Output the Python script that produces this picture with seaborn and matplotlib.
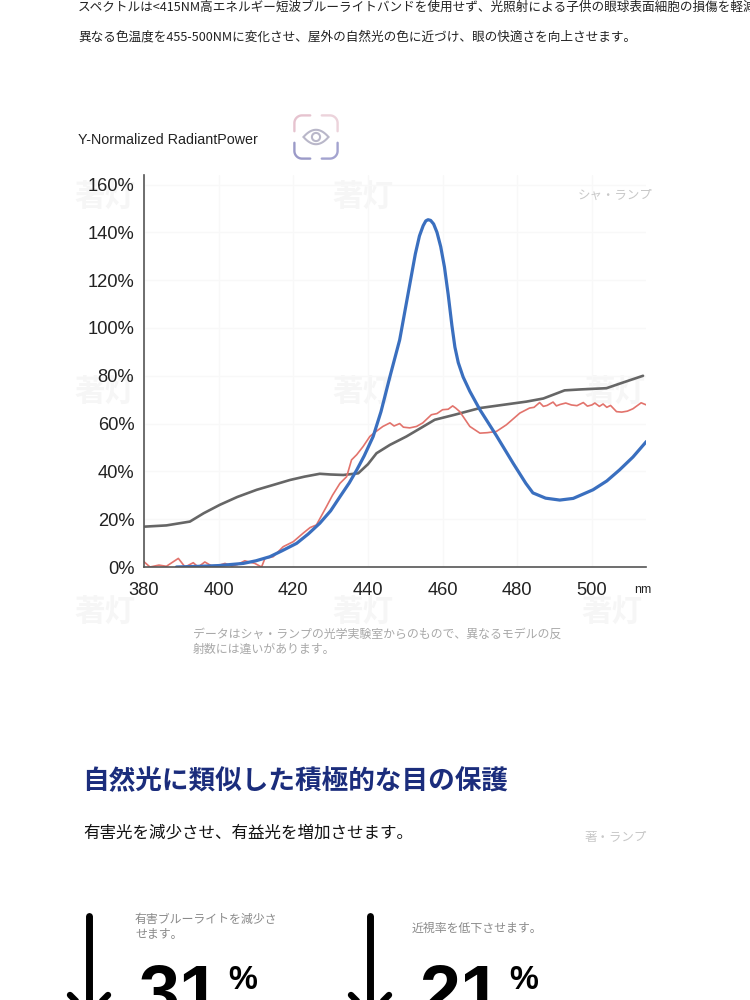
import numpy as np
import seaborn as sns
import matplotlib.pyplot as plt
from matplotlib.lines import Line2D

# spectrum data (wavelength nm, relative power %)
wl_gray = [380.3, 386, 392.3, 396, 400.3, 405, 410.2, 415, 419.1, 423, 427.1, 430, 433.4, 437.4, 440,
           442.3, 445.9, 450.3, 454, 457.9, 463, 470, 476, 482.5, 487, 492.7, 497, 503.9, 508, 513.7]
gray = [16.9, 17.4, 19, 22.5, 26, 29.3, 32.3, 34.5, 36.4, 37.8, 39, 38.7, 38.5, 39.2, 43,
        47.6, 51.1, 54.6, 58, 61.6, 63.6, 66.5, 67.8, 69.2, 70.5, 73.9, 74.3, 74.8, 77, 80]

wl_blue = [388.7, 395, 400, 406.6, 410, 413.7, 417, 420.9, 424, 427.1, 430, 432.5, 435, 437, 439, 441.4,
           443.5, 445.9, 448.5, 450.6, 452.7, 453.8, 454.8, 455.5, 456.1, 456.8, 457.6, 458.5, 459.5,
           460.5, 461.5, 462.5, 463.3, 464.2, 465.5, 467.3, 470, 474.4, 478.9, 482.3, 484.2, 487.6,
           491.4, 495, 500.3, 504, 507.4, 511, 514.6]
blue = [0, 0.3, 0.6, 1.5, 2.6, 4.3, 6.8, 9.9, 13.8, 18.3, 23.5, 29.4, 35.2, 40.6, 46.5, 54.6,
        65, 79.7, 95, 113, 131, 138.5, 142.8, 144.8, 145.3, 145, 143.5, 140, 134, 125.5,
        114, 101, 92, 85.5, 79.5, 73.5, 65.8, 55, 43.4, 35, 31, 28.8,
        28, 28.7, 32.3, 36, 40.6, 46, 52.5]

wl_red = [380, 381.6, 384, 386, 389.2, 391, 393.2, 394.5, 396.3, 398.6, 401.7, 403.5, 405, 407, 409.7,
          411.5, 412.4, 414.6, 417.3, 420, 422.6, 424.5, 426.2, 428.9, 430.5, 432.5, 434.3, 435.6, 437,
          438.7, 440.5, 442, 444, 445.9, 447, 448.5, 449.5, 451.2, 453, 454.7, 457, 458.5, 460, 461.5,
          462.7, 463.5, 464.6, 467.3, 470, 472, 474.4, 477.1, 480.7, 483.3, 484.5, 486, 487, 488, 489.6,
          490.5, 491.5, 493, 494.5, 496, 497.7, 498.8, 500, 500.8, 502, 503, 504, 505, 506.6, 508,
          509.5, 511, 513.2, 514.6]
red = [2.2, 0, 0.8, 0.3, 3.6, 0, 1.8, 0, 2.1, 0, 1.5, 0.4, 1, 2.6, 1.5,
       0, 3.6, 4.3, 8.5, 10.6, 14.1, 16.5, 17.6, 25.3, 30, 35, 37.8, 44.8, 47,
       50.4, 54.6, 56.5, 58.8, 60.3, 59, 60, 58.5, 58.2, 58.8, 60.3, 63.7, 64.2, 65.8, 66,
       67.4, 66.5, 65, 58.8, 56, 56.2, 56.7, 59.5, 64.4, 66.5, 66.8, 68.8, 67.2, 67.6, 69,
       67.4, 68, 68.6, 67.8, 67.5, 68.8, 67.3, 67.8, 68.6, 67.2, 68.2, 66.8, 67.6, 65, 64.8,
       65.2, 66.2, 68.7, 67.8]

x_ticks = [380, 400, 420, 440, 460, 480, 500]
y_ticks = [0, 20, 40, 60, 80, 100, 120, 140, 160]

stats = ["31", "21"]
stat_notes = ["有害ブルーライトを減少さ\nせます。", "近視率を低下させます。"]

sns.set_style("white")
plt.rcParams["font.family"] = ["Noto Sans CJK JP", "DejaVu Sans"]

W, H = 750, 1000
fig = plt.figure(figsize=(7.5, 10), dpi=100)
fig.patch.set_facecolor("white")


def fx(x):
    return x / W


def fy(y):
    return 1 - y / H


# texts at the top of the page
fig.text(fx(78), fy(7), "スペクトルは<415NM高エネルギー短波ブルーライトバンドを使用せず、光照射による子供の眼球表面細胞の損傷を軽減します",
         fontsize=9.1, color="#222222", va="center")
fig.text(fx(78), fy(37), "異なる色温度を455-500NMに変化させ、屋外の自然光の色に近づけ、眼の快適さを向上させます。",
         fontsize=9.1, color="#222222", va="center")
fig.text(fx(78), fy(140), "Y-Normalized RadiantPower", fontsize=10.3, color="#222222", va="center",
         family=["Liberation Sans", "DejaVu Sans"])

# faint watermarks
for wx, wy in [(105, 197), (363, 197), (105, 392), (363, 392), (615, 392), (105, 612), (363, 612), (612, 612)]:
    fig.text(fx(wx), fy(wy), "著灯", fontsize=22, fontweight="bold", color="#f6f6f6",
             ha="center", va="center", zorder=-1)

# chart
ax = fig.add_axes([fx(144), fy(567), 502 / W, 392 / H])
ax.patch.set_facecolor("none")
sns.lineplot(x=wl_gray, y=gray, ax=ax, color="#666666", linewidth=1.9, estimator=None)
sns.lineplot(x=wl_red, y=red, ax=ax, color="#e2736c", linewidth=1.2, estimator=None)
sns.lineplot(x=wl_blue, y=blue, ax=ax, color="#3a6fbf", linewidth=2.3, estimator=None)
ax.set_xlim(380, 514.5)
ax.set_ylim(0, 164)
ax.set_xticks(x_ticks)
ax.set_yticks(y_ticks)
ax.set_yticklabels([f"{v}%" for v in y_ticks])
for lab in ax.get_xticklabels() + ax.get_yticklabels():
    lab.set_family(["Liberation Sans", "DejaVu Sans"])
    lab.set_fontsize(13.2)
    lab.set_color("#222222")
ax.tick_params(axis="both", length=0)
ax.tick_params(axis="y", pad=7)
ax.tick_params(axis="x", pad=11)
ax.grid(True, color="#f8f8f8", linewidth=1)
sns.despine(ax=ax)
for side in ["left", "bottom"]:
    ax.spines[side].set_color("#555555")
    ax.spines[side].set_linewidth(1.2)
ax.set_xlabel("")
ax.set_ylabel("")
fig.text(fx(643), fy(590), "nm", fontsize=9, color="#222222", ha="center", va="center",
         family=["Liberation Sans", "DejaVu Sans"])
fig.text(fx(653), fy(195), "シャ・ランプ", fontsize=9, color="#c8c8c8", ha="right", va="center")

# eye icon
icon = fig.add_axes([fx(292), fy(161), 48 / W, 48 / H])
icon.set_xlim(0, 1)
icon.set_ylim(0, 1)
icon.axis("off")
ang = np.linspace(0, np.pi / 2, 20)
cx = np.concatenate([[0.45, 0.45], 0.29 + 0.16 * np.cos(ang), [0.12]])
cy = np.concatenate([[0.12, 0.29], 0.29 + 0.16 * np.sin(ang), [0.45]])
for sx, sy, col in [(1, 1, "#ecd3db"), (-1, 1, "#e6c3cf"), (1, -1, "#a3a3cf"), (-1, -1, "#9b9ac8")]:
    icon.plot(0.5 + sx * cx, 0.5 + sy * cy, color=col, linewidth=1.7, solid_capstyle="round")
t = np.linspace(-1, 1, 40)
icon.plot(0.5 + 0.26 * t, 0.5 + 0.15 * (1 - t ** 2), color="#b9b7c9", linewidth=1.5)
icon.plot(0.5 + 0.26 * t, 0.5 - 0.15 * (1 - t ** 2), color="#b9b7c9", linewidth=1.5)
icon.add_patch(plt.Circle((0.5, 0.5), 0.085, fill=False, color="#b9b7c9", linewidth=1.5))

# caption
fig.text(fx(193), fy(634), "データはシャ・ランプの光学実験室からのもので、異なるモデルの反", fontsize=8.6,
         color="#a8a8a8", va="center")
fig.text(fx(193), fy(649), "射数には違いがあります。", fontsize=8.6, color="#a8a8a8", va="center")

# lower section
fig.text(fx(82), fy(781), "自然光に類似した積極的な目の保護", fontsize=19.2, fontweight="bold",
         color="#1b2d7c", va="center")
fig.text(fx(83), fy(833), "有害光を減少させ、有益光を増加させます。", fontsize=11.9, color="#111111", va="center")
fig.text(fx(647), fy(837), "著・ランプ", fontsize=9, color="#c8c8c8", ha="right", va="center")

for i, (bx, note) in enumerate(zip([89, 370], stat_notes)):
    fig.add_artist(Line2D([fx(bx), fx(bx)], [fy(916), fy(1010)], transform=fig.transFigure,
                          color="black", linewidth=5))
    for dx in (-19, 19):
        fig.add_artist(Line2D([fx(bx + dx), fx(bx)], [fy(995), fy(1014)], transform=fig.transFigure,
                              color="black", linewidth=4.6))
    ny = 927 if "\n" in note else 928
    fig.text(fx(bx + 46 if i == 0 else bx + 42), fy(ny), note, fontsize=8.6, color="#8a8a8a",
             va="center", linespacing=1.25)
    fig.text(fx(bx + 49), fy(1017), stats[i], fontsize=53, fontweight="bold", color="black",
             va="baseline", family=["Liberation Sans", "DejaVu Sans"])
    fig.text(fx(bx + 139), fy(989), "%", fontsize=23.5, fontweight="bold", color="black",
             va="baseline", family=["Liberation Sans", "DejaVu Sans"])

fig.savefig("out.png", dpi=100, facecolor="white")
